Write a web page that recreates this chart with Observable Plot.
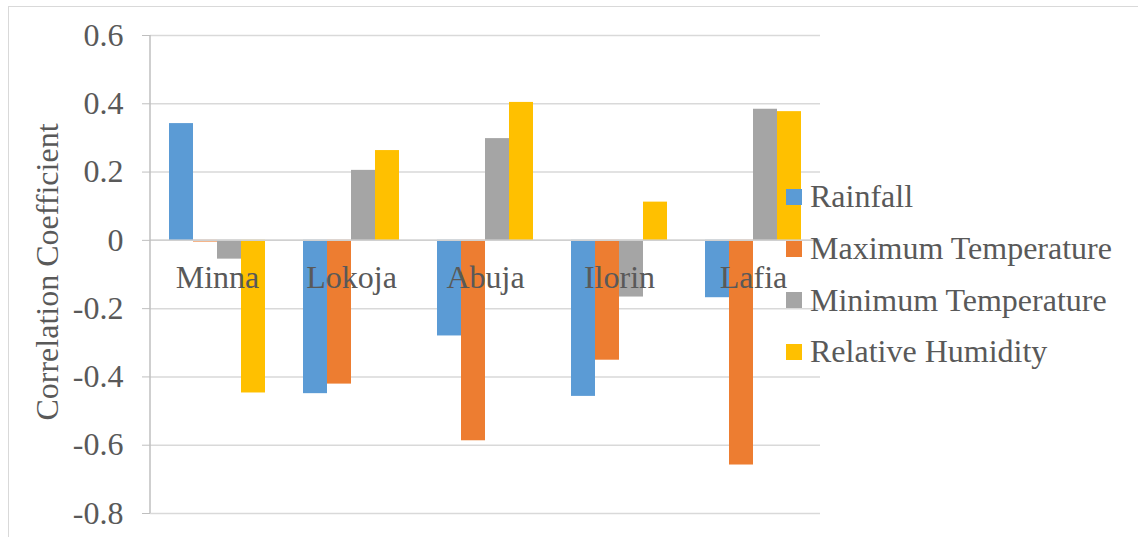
<!DOCTYPE html>
<html>
<head>
<meta charset="utf-8">
<script src="https://cdn.jsdelivr.net/npm/d3@7"></script>
<script src="https://cdn.jsdelivr.net/npm/@observablehq/plot@0.6"></script>
<style>
  html, body { margin: 0; padding: 0; background: #fff; overflow: hidden; }
  #wrap { position: relative; width: 1138px; height: 537px; }
  #border { position: absolute; left: 8px; top: 6px; width: 1200px; height: 600px; border: 1px solid #d9d9d9; box-sizing: border-box; }
  #chart { position: absolute; left: 0; top: 0; }
  #wrap, #wrap div, #wrap span, #chart svg, #chart svg text { font-family: 'Liberation Serif', 'Times New Roman', serif !important; }
  .txt { color: #595959; font-size: 32px; }
  #ylabel { position: absolute; left: 48px; top: 272px; transform: translate(-50%, -50%) rotate(-90deg); white-space: nowrap; line-height: 1.1; }
  #legend { position: absolute; left: 786px; top: 171px; }
  .row { display: flex; align-items: center; height: 51.7px; white-space: nowrap; }
  .sw { width: 16px; height: 16px; margin-right: 8px; flex: none; }
</style>
</head>
<body>
<div id="wrap">
  <div id="border"></div>
  <div id="chart"></div>
  <div id="ylabel" class="txt">Correlation Coefficient</div>
  <div id="legend" class="txt"></div>
</div>
<script>
// Stations (groups) and the four climate variables (bars within each group)
const stations = ["Minna", "Lokoja", "Abuja", "Ilorin", "Lafia"];
const variables = ["Rainfall", "Maximum Temperature", "Minimum Temperature", "Relative Humidity"];
const colors = ["#5b9bd5", "#ed7d31", "#a5a5a5", "#ffc000"];

// Correlation coefficients per station, one array per variable
const rainfall = [0.342, -0.449, -0.280, -0.457, -0.168];
const maxTemperature = [-0.005, -0.421, -0.587, -0.351, -0.658];
const minTemperature = [-0.055, 0.205, 0.298, -0.166, 0.384];
const relativeHumidity = [-0.447, 0.263, 0.404, 0.112, 0.377];

const yTicks = [-0.8, -0.6, -0.4, -0.2, 0, 0.2, 0.4, 0.6];

const seriesValues = [rainfall, maxTemperature, minTemperature, relativeHumidity];
const rows = [];
stations.forEach((station, i) => {
  variables.forEach((variable, j) => {
    rows.push({station, variable, value: seriesValues[j][i]});
  });
});

const chart = Plot.plot({
  width: 1138,
  height: 537,
  marginLeft: 150,
  marginRight: 318,
  marginTop: 35,
  marginBottom: 24,
  style: {fontFamily: "'Liberation Serif', serif", fontSize: "32px", color: "#595959", background: "transparent", overflow: "visible"},
  fx: {domain: stations, padding: 0, axis: null},
  x: {domain: variables, paddingInner: 0, paddingOuter: 0.79, axis: null},
  y: {
    domain: [-0.8, 0.6],
    ticks: yTicks,
    tickFormat: d => (d === 0 ? "0" : d.toFixed(1)),
    tickSize: 8,
    tickPadding: 19,
    label: null
  },
  color: {domain: variables, range: colors},
  marks: [
    Plot.ruleY(yTicks, {stroke: "#d9d9d9", strokeWidth: 1.5}),
    Plot.barY(rows, {fx: "station", x: "variable", y: "value", fill: "variable"}),
    Plot.ruleY([0], {stroke: "#d0d0d0", strokeWidth: 1.5}),
    Plot.text(stations, {fx: d => d, y: () => 0, text: d => d, dy: 37, fill: "#595959"})
  ]
});
document.getElementById("chart").appendChild(chart);

// Vertical value-axis line and gray tick marks
const svg = d3.select(chart);
svg.selectAll('[aria-label="y-axis tick"] path, [aria-label="y-axis tick"]').attr("stroke", "#bfbfbf");
svg.selectAll("text").style("font-variant", "normal");
const y = chart.scale("y");
svg.append("line")
  .attr("x1", 150).attr("x2", 150)
  .attr("y1", y.apply(0.6)).attr("y2", y.apply(-0.8))
  .attr("stroke", "#bfbfbf").attr("stroke-width", 1.5);

// Legend
const legend = d3.select("#legend");
variables.forEach((v, i) => {
  const row = legend.append("div").attr("class", "row");
  row.append("div").attr("class", "sw").style("background", colors[i]);
  row.append("span").text(v);
});
</script>
</body>
</html>
